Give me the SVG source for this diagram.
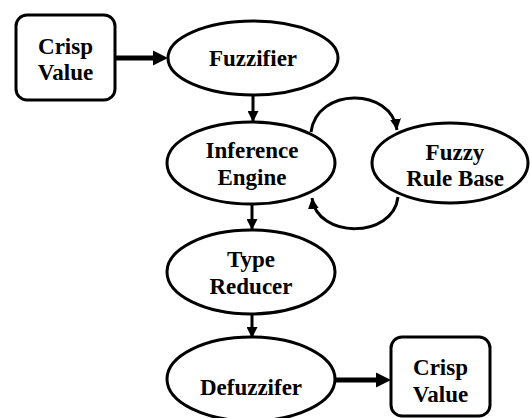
<svg xmlns="http://www.w3.org/2000/svg" width="530" height="418" viewBox="0 0 530 418">
<style>
.n{fill:#fff;stroke:#000;stroke-width:3}
.t{font-family:"Liberation Serif","Times New Roman",serif;font-weight:bold;font-size:23px;text-anchor:middle;fill:#000}
.thin{fill:none;stroke:#000;stroke-width:3}
.thick{fill:none;stroke:#000;stroke-width:5}
</style>
<defs>
<marker id="ah" markerUnits="userSpaceOnUse" viewBox="0 0 10 10" refX="10" refY="5" markerWidth="11" markerHeight="11" orient="auto">
<path d="M0,0 L10,5 L0,10 z" fill="#000"/>
</marker>
</defs>
<rect width="530" height="418" fill="#fff"/>
<g id="connectors">
<line class="thick" x1="115" y1="58" x2="155" y2="58"/>
<polygon points="153,50.5 168,58 153,65.5" fill="#000"/>
<line class="thin" x1="253" y1="95" x2="253" y2="122" marker-end="url(#ah)"/>
<line class="thin" x1="252" y1="205" x2="252" y2="230" marker-end="url(#ah)"/>
<line class="thin" x1="252" y1="314" x2="252" y2="338" marker-end="url(#ah)"/>
<path class="thin" d="M311,132 C317,87 391,87 397,130" marker-end="url(#ah)"/>
<path class="thin" d="M398,197 C393,239 317,239 312,198" marker-end="url(#ah)"/>
<line class="thick" x1="335" y1="380" x2="378" y2="380"/>
<polygon points="376,372.5 391,380 376,387.5" fill="#000"/>
</g>
<g id="crisp-in">
<rect class="n" x="16" y="15" width="99" height="85" rx="11"/>
<text class="t" x="65.5" y="54">Crisp</text>
<text class="t" x="65.5" y="80">Value</text>
</g>
<g id="fuzzifier">
<ellipse class="n" cx="253" cy="58" rx="85" ry="37"/>
<text class="t" x="253" y="66">Fuzzifier</text>
</g>
<g id="inference">
<ellipse class="n" cx="251" cy="163" rx="84" ry="41"/>
<text class="t" x="252" y="158">Inference</text>
<text class="t" x="252" y="185">Engine</text>
</g>
<g id="rulebase">
<ellipse class="n" cx="450" cy="163" rx="78" ry="40"/>
<text class="t" x="455" y="160">Fuzzy</text>
<text class="t" x="455" y="186">Rule Base</text>
</g>
<g id="typereducer">
<ellipse class="n" cx="251" cy="272" rx="84" ry="42"/>
<text class="t" x="251" y="267">Type</text>
<text class="t" x="251" y="294">Reducer</text>
</g>
<g id="defuzzifier">
<ellipse class="n" cx="251" cy="379" rx="84" ry="42"/>
<text class="t" x="251" y="395">Defuzzifer</text>
</g>
<g id="crisp-out">
<rect class="n" x="391" y="337" width="99" height="79" rx="11"/>
<text class="t" x="440.5" y="375">Crisp</text>
<text class="t" x="440.5" y="402">Value</text>
</g>
</svg>
